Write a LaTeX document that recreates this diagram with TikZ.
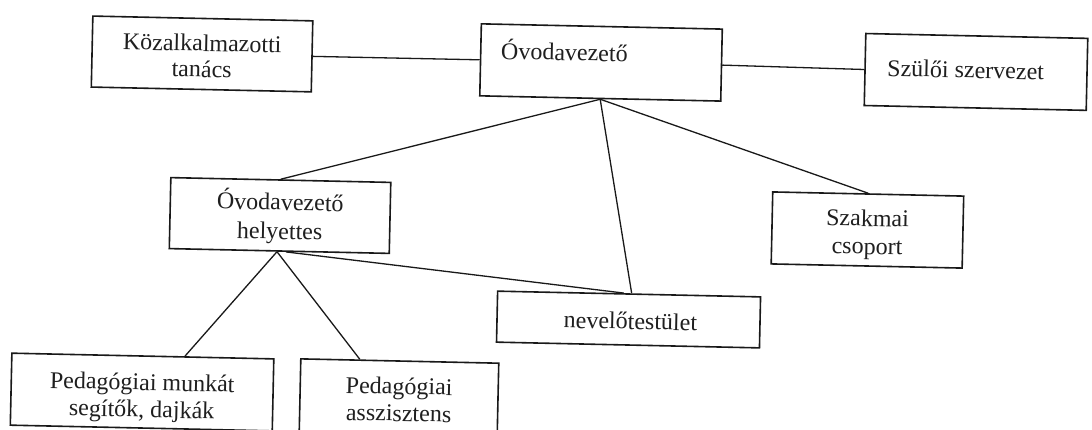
\documentclass[tikz,border=0pt]{standalone}
\usepackage{fontspec}
\setmainfont{Liberation Serif}
\usetikzlibrary{calc}
\tikzset{
  orgbox/.style={draw=black!90, line width=1.6pt, rectangle, inner sep=0pt, fill=white},
  conn/.style={draw=black!90, line width=1.3pt},
  txt/.style={inner sep=0pt, anchor=base, text=black!88, font=\fontsize{24}{27}\selectfont}
}
\begin{document}
\begin{tikzpicture}[x=1pt,y=-1pt]
\useasboundingbox (0,0) rectangle (1092,430);
\clip (0,0) rectangle (1092,430);
\fill[white] (0,0) rectangle (1092,430);
\begin{scope}[rotate around={-1.25:(546,215)}, transform shape]
\path (198.6,61.5) node[orgbox, minimum width=220pt, minimum height=71pt] (b1) {};
\path (597.7,61.3) node[orgbox, minimum width=241pt, minimum height=72pt] (ov) {};
\path (972.8,62.6) node[orgbox, minimum width=222pt, minimum height=72pt] (sz) {};
\path (280.1,221.3) node[orgbox, minimum width=220pt, minimum height=71pt] (hely) {};
\path (867.7,223.0) node[orgbox, minimum width=191pt, minimum height=72pt] (szak) {};
\path (630.8,317.7) node[orgbox, minimum width=263pt, minimum height=51pt] (nev) {};
\path (146.0,400.8) node[orgbox, minimum width=262pt, minimum height=72pt] (munk) {};
\path (403.0,400.2) node[orgbox, minimum width=198pt, minimum height=72pt] (assz) {};

\coordinate (nevA) at ($(nev.north west)!0.51!(nev.north east)$);
\coordinate (nevB) at ($(nev.north west)!0.48!(nev.north east)$);
\coordinate (helyB) at ($(hely.south west)!0.53!(hely.south east)$);
\coordinate (helyA) at ($(hely.south west)!0.49!(hely.south east)$);
\coordinate (munkT) at ($(munk.north west)!0.66!(munk.north east)$);
\coordinate (asszT) at ($(assz.north west)!0.30!(assz.north east)$);

\draw[conn] (b1.east) -- (ov.west);
\draw[conn] (ov.east) -- (sz.west);
\draw[conn] (ov.south) -- (hely.north);
\draw[conn] (ov.south) -- (szak.north);
\draw[conn] (ov.south) -- (nevA);
\draw[conn] (helyB) -- (nevB);
\draw[conn] (helyA) -- (munkT);
\draw[conn] (helyA) -- (asszT);

% texts
\node[txt] (t1a) at ([yshift=-33.5pt]b1.north) {Közalkalmazotti};
\node[txt] (t1b) at ([yshift=-59.5pt]b1.north) {tanács};
\node[txt, anchor=base west] (t2) at ([xshift=21pt,yshift=-35.6pt]ov.north west) {Óvodavezető};
\node[txt, anchor=base west] (t3) at ([xshift=23pt,yshift=-43pt]sz.north west) {Szülői szervezet};
\node[txt] (t4a) at ([yshift=-31pt]hely.north) {Óvodavezető};
\node[txt] (t4b) at ([yshift=-60pt]hely.north) {helyettes};
\node[txt] (t5a) at ([yshift=-33pt]szak.north) {Szakmai};
\node[txt] (t5b) at ([yshift=-61pt]szak.north) {csoport};
\node[txt] (t6) at ([xshift=2pt,yshift=-36pt]nev.north) {nevelőtestület};
\node[txt] (t7a) at ([yshift=-35pt]munk.north) {Pedagógiai munkát};
\node[txt] (t7b) at ([yshift=-62pt]munk.north) {segítők, dajkák};
\node[txt] (t8a) at ([yshift=-34pt]assz.north) {Pedagógiai};
\node[txt] (t8b) at ([yshift=-61pt]assz.north) {asszisztens};
\end{scope}
\end{tikzpicture}
\end{document}
